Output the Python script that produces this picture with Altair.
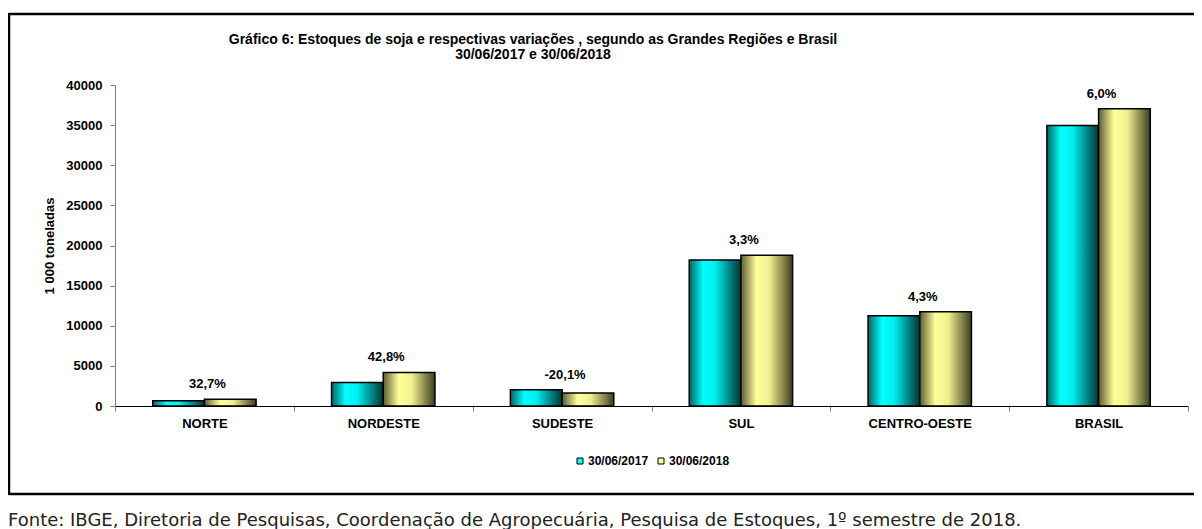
import altair as alt
import pandas as pd

regions = ["NORTE", "NORDESTE", "SUDESTE", "SUL", "CENTRO-OESTE", "BRASIL"]
series = ["30/06/2017", "30/06/2018"]
stock_2017 = [640, 2930, 2030, 18200, 11250, 34950]
stock_2018 = [850, 4185, 1622, 18800, 11730, 37050]
variation = ["32,7%", "42,8%", "-20,1%", "3,3%", "4,3%", "6,0%"]
y_ticks = [0, 5000, 10000, 15000, 20000, 25000, 30000, 35000, 40000]
title_lines = [
    "Gráfico 6: Estoques de soja e respectivas variações , segundo as Grandes Regiões e Brasil",
    "30/06/2017 e 30/06/2018",
]
y_title = "1 000 toneladas"
source = ("Fonte: IBGE, Diretoria de Pesquisas, Coordenação de Agropecuária, "
          "Pesquisa de Estoques, 1º semestre de 2018.")

rows = []
for r, a, b in zip(regions, stock_2017, stock_2018):
    rows.append({"region": r, "series": series[0], "value": a})
    rows.append({"region": r, "series": series[1], "value": b})
df = pd.DataFrame(rows)
lab = pd.DataFrame({
    "region": regions,
    "top": [max(a, b) for a, b in zip(stock_2017, stock_2018)],
    "label": variation,
})

W, H = 1073, 321
FONT = "Liberation Sans"

grad_cyan = {
    "gradient": "linear", "x1": 0, "x2": 1, "y1": 0, "y2": 0,
    "stops": [
        {"offset": 0, "color": "#006666"},
        {"offset": 0.27, "color": "#00ffff"},
        {"offset": 0.5, "color": "#00eeee"},
        {"offset": 1, "color": "#003333"},
    ],
}
grad_yellow = {
    "gradient": "linear", "x1": 0, "x2": 1, "y1": 0, "y2": 0,
    "stops": [
        {"offset": 0, "color": "#5c5c33"},
        {"offset": 0.3, "color": "#ffff99"},
        {"offset": 0.55, "color": "#f0f090"},
        {"offset": 1, "color": "#3d3d22"},
    ],
}

x_enc = alt.X(
    "region:N", sort=regions,
    scale=alt.Scale(paddingInner=0, paddingOuter=0),
    axis=alt.Axis(
        title=None, tickBand="extent", labelAngle=0, labelFont=FONT,
        labelFontWeight="bold", labelFontSize=13, labelColor="black",
        domainColor="black", domainWidth=1, tickColor="#808080", tickSize=5,
        labelPadding=6,
    ),
)
xoff_enc = alt.XOffset("series:N", scale=alt.Scale(domain=series, paddingInner=0, paddingOuter=0.73))
y_enc = alt.Y(
    "value:Q",
    scale=alt.Scale(domain=[0, 40000], nice=False),
    axis=alt.Axis(
        values=y_ticks, format="d", grid=False, title=y_title, titleFont=FONT,
        titleFontWeight="bold", titleFontSize=13, titleColor="black",
        titlePadding=9, labelFont=FONT, labelFontWeight="bold",
        labelFontSize=13, labelColor="black", domainColor="#808080",
        tickColor="#808080", tickSize=5, labelPadding=8,
    ),
)

base = alt.Chart(df)
bars17 = base.transform_filter(alt.datum.series == series[0]).mark_bar(
    fill=grad_cyan, stroke="black", strokeWidth=1.5
).encode(x=x_enc, xOffset=xoff_enc, y=y_enc)
bars18 = base.transform_filter(alt.datum.series == series[1]).mark_bar(
    fill=grad_yellow, stroke="black", strokeWidth=1.5
).encode(x=x_enc, xOffset=xoff_enc, y=y_enc)

legend_layer = base.transform_filter("false").mark_square().encode(
    x=x_enc, xOffset=xoff_enc, y=y_enc,
    color=alt.Color(
        "series:N",
        scale=alt.Scale(domain=series, range=["#00ffff", "#ffff99"]),
        legend=alt.Legend(
            title=None, orient="none", legendX=459, legendY=370,
            direction="horizontal", symbolType="square", symbolSize=36,
            symbolStrokeColor="black", symbolStrokeWidth=1, symbolOpacity=1,
            labelFont=FONT, labelFontWeight="bold", labelFontSize=12,
            labelColor="black", labelOffset=2, columnPadding=6,
        ),
    ),
)

labels = alt.Chart(lab).mark_text(
    font=FONT, fontWeight="bold", fontSize=13, color="black", dy=-15, dx=3
).encode(
    x=alt.X("region:N", sort=regions),
    y=alt.Y("top:Q"),
    text="label:N",
)

one = pd.DataFrame({"k": [0]})
frame_top = alt.Chart(one).mark_rule(stroke="black", strokeWidth=2.5).encode(
    x=alt.value(-106), x2=alt.value(1079), y=alt.value(-71))
frame_bottom = alt.Chart(one).mark_rule(stroke="black", strokeWidth=2.5).encode(
    x=alt.value(-106), x2=alt.value(1079), y=alt.value(409))
frame_left = alt.Chart(one).mark_rule(stroke="black", strokeWidth=2.5).encode(
    x=alt.value(-106), y=alt.value(-72), y2=alt.value(410))

title1 = alt.Chart(pd.DataFrame({"t": [title_lines[0]]})).mark_text(
    font=FONT, fontWeight="bold", fontSize=14, color="black", align="center", baseline="middle"
).encode(x=alt.value(418), y=alt.value(-45), text="t:N")
title2 = alt.Chart(pd.DataFrame({"t": [title_lines[1]]})).mark_text(
    font=FONT, fontWeight="bold", fontSize=14, color="black", align="center", baseline="middle"
).encode(x=alt.value(418), y=alt.value(-30), text="t:N")

foot = alt.Chart(pd.DataFrame({"t": [source]})).mark_text(
    font="DejaVu Sans", fontSize=18, color="#222222", align="left", baseline="middle"
).encode(x=alt.value(-107), y=alt.value(436), text="t:N")

chart = alt.layer(
    frame_top, frame_bottom, frame_left, bars17, bars18, legend_layer, labels,
    title1, title2, foot,
).properties(
    width=W, height=H,
    autosize="none",
    padding={"left": 107, "top": 77, "right": 6, "bottom": 125},
).configure_view(stroke=None)

chart.save("out.html", embed_options={"renderer": "svg", "actions": False})
